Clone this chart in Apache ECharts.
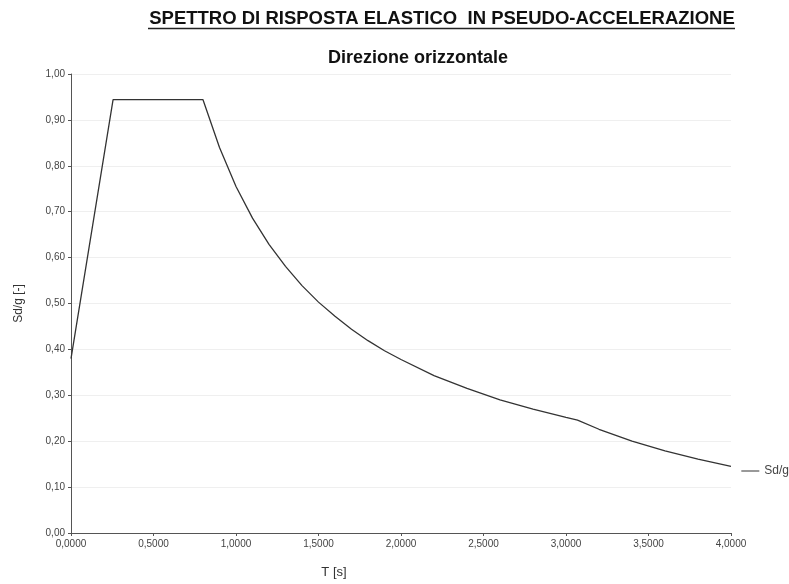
<!DOCTYPE html>
<html>
<head>
<meta charset="utf-8">
<script src="https://cdn.jsdelivr.net/npm/echarts@6/dist/echarts.min.js"></script>
<style>
  html, body { margin: 0; padding: 0; background: #fff; }
  #chart { width: 789px; height: 584px; }
</style>
</head>
<body>
<div id="chart"></div>
<script>
// Spettro di risposta elastico
const periodi = [0, 0.255, 0.8, 0.9, 1.0, 1.1, 1.2, 1.3, 1.4, 1.5, 1.6, 1.7, 1.8, 1.9, 2.0,
  2.2, 2.4, 2.6, 2.8, 3.0, 3.07, 3.2, 3.4, 3.6, 3.8, 4.0];
const sdg = [0.38, 0.944, 0.944, 0.84, 0.755, 0.686, 0.629, 0.581, 0.539, 0.503, 0.472, 0.444, 0.419, 0.397, 0.378,
  0.343, 0.315, 0.290, 0.270, 0.252, 0.246, 0.226, 0.200, 0.179, 0.161, 0.145];

const titolo = 'SPETTRO DI RISPOSTA ELASTICO  IN PSEUDO-ACCELERAZIONE';
const sottotitolo = 'Direzione orizzontale';
const nomeSerie = 'Sd/g';

const FONT = 'Liberation Sans';

const chart = echarts.init(document.getElementById('chart'));

chart.setOption({
  animation: false,
  backgroundColor: '#fff',
  title: [
    {
      text: titolo,
      left: 437, top: 4, textAlign: 'center',
      textStyle: { fontFamily: FONT, fontSize: 18.5, fontWeight: 'bold', color: '#111' }
    },
    {
      text: sottotitolo,
      left: 413, top: 44, textAlign: 'center',
      textStyle: { fontFamily: FONT, fontSize: 18, fontWeight: 'bold', color: '#111' }
    }
  ],
  // sottolineatura del titolo
  graphic: [{
    type: 'line',
    shape: { x1: 148, y1: 28.5, x2: 735, y2: 28.5 },
    style: { stroke: '#222', lineWidth: 1.3 }
  }],
  legend: {
    right: 0, top: 465, padding: 0,
    icon: 'rect', itemWidth: 18, itemHeight: 1, itemGap: 4,
    textStyle: { fontFamily: FONT, fontSize: 12, color: '#444' },
    data: [nomeSerie]
  },
  grid: { left: 71, right: 58, top: 74, bottom: 48 },
  xAxis: {
    type: 'value', min: 0, max: 4, interval: 0.5,
    name: 'T [s]', nameLocation: 'middle', nameGap: 33,
    nameTextStyle: { fontFamily: FONT, fontSize: 13, color: '#333', padding: [0, 134, 0, 0] },
    axisLine: { lineStyle: { color: '#555' } },
    axisTick: { show: true, length: 3, lineStyle: { color: '#555' } },
    axisLabel: {
      fontFamily: FONT, fontSize: 10, color: '#444', margin: 6,
      formatter: v => v.toFixed(4).replace('.', ',')
    },
    splitLine: { show: false }
  },
  yAxis: {
    type: 'value', min: 0, max: 1, interval: 0.1,
    name: 'Sd/g [-]', nameLocation: 'middle', nameGap: 46,
    nameTextStyle: { fontFamily: FONT, fontSize: 12, color: '#333' },
    axisLine: { show: true, lineStyle: { color: '#555' } },
    axisTick: { show: true, length: 3, lineStyle: { color: '#555' } },
    axisLabel: {
      fontFamily: FONT, fontSize: 10, color: '#444', margin: 6,
      formatter: v => v.toFixed(2).replace('.', ',')
    },
    splitLine: { show: true, lineStyle: { color: '#efefef', width: 1 } }
  },
  series: [{
    name: nomeSerie,
    type: 'line',
    data: periodi.map((t, i) => [t, sdg[i]]),
    showSymbol: false,
    smooth: false,
    lineStyle: { color: '#333', width: 1.3 },
    itemStyle: { color: '#333' }
  }]
});
</script>
</body>
</html>
